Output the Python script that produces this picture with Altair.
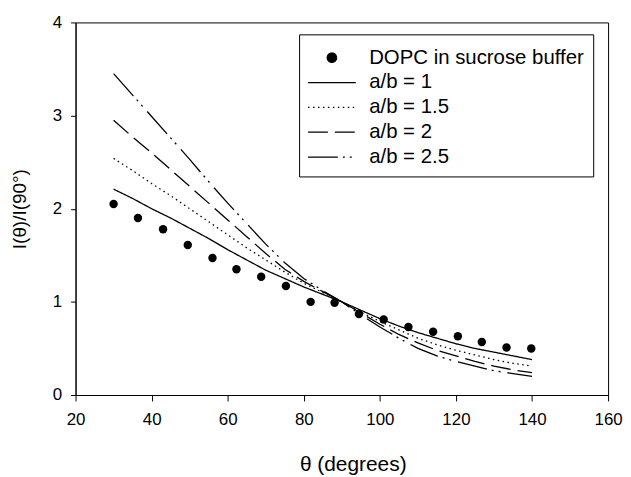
import math
import altair as alt
import pandas as pd

# ---- data ----
theta_pts = [30, 36.4, 43, 49.5, 56, 62.3, 68.8, 75.3, 81.8, 88.1, 94.5, 101,
             107.5, 114, 120.5, 126.8, 133.3, 139.8]
ratio_pts = [2.05, 1.90, 1.78, 1.61, 1.47, 1.35, 1.27, 1.17, 1.00, 0.99, 0.87,
             0.81, 0.73, 0.68, 0.63, 0.57, 0.51, 0.50]

theta_fit = [30, 35, 40, 45, 50, 55, 60, 65, 70, 75, 80, 85, 90, 95, 100, 105,
             110, 115, 120, 125, 130, 135, 140]
ab_1 = [2.21, 2.11, 2.00, 1.90, 1.79, 1.68, 1.56, 1.45, 1.34, 1.25, 1.16, 1.08,
        1.00, 0.91, 0.82, 0.74, 0.67, 0.61, 0.55, 0.50, 0.46, 0.42, 0.38]
ab_1_5 = [2.54, 2.41, 2.27, 2.14, 2.00, 1.86, 1.72, 1.58, 1.45, 1.32, 1.20, 1.10,
          1.00, 0.89, 0.79, 0.70, 0.61, 0.54, 0.48, 0.43, 0.38, 0.34, 0.31]
ab_2 = [2.95, 2.77, 2.60, 2.42, 2.24, 2.06, 1.88, 1.70, 1.52, 1.35, 1.22, 1.11,
        1.00, 0.88, 0.76, 0.65, 0.56, 0.48, 0.42, 0.36, 0.31, 0.27, 0.24]
ab_2_5 = [3.45, 3.22, 2.99, 2.76, 2.53, 2.29, 2.06, 1.84, 1.62, 1.42, 1.25, 1.12,
          1.00, 0.86, 0.73, 0.61, 0.50, 0.42, 0.36, 0.31, 0.26, 0.23, 0.20]

series_names = ["a/b = 1", "a/b = 1.5", "a/b = 2", "a/b = 2.5"]
points_name = "DOPC in sucrose buffer"
x_ticks = [20, 40, 60, 80, 100, 120, 140, 160]
y_ticks = [0, 1, 2, 3, 4]

# ---- tables ----
rows = []
for name, vals in zip(series_names, [ab_1, ab_1_5, ab_2, ab_2_5]):
    for t, v in zip(theta_fit, vals):
        rows.append({"theta": t, "ratio": v, "series": name})
lines_df = pd.DataFrame(rows)
pts_df = pd.DataFrame({"theta": theta_pts, "ratio": ratio_pts})

legend_domain = [points_name] + series_names
dash_range = [[1, 0], [1, 0], [1.5, 3.5], [20, 7], [30, 5, 2, 5, 2, 7]]

FONT = "Liberation Sans, Arial, sans-serif"
# legend glyphs (unit symbol paths, scaled by sqrt(symbolSize)/2 = 13.5 px)
_r = 0.35
dot_path = "M " + " L ".join(
    f"{_r * math.cos(2 * math.pi * k / 20):.4f} {_r * math.sin(2 * math.pi * k / 20):.4f}"
    for k in range(20)
) + " Z"
line_path = "M -1.778 0 L 1.778 0"
is_pts = "datum.value === '" + points_name + "'"

legend = alt.Legend(
    title=None,
    orient="none",
    legendX=225,
    legendY=12,
    symbolSize=729,
    symbolStrokeWidth=1.3,
    symbolStrokeColor="black",
    symbolType={"expr": is_pts + " ? '" + dot_path + "' : '" + line_path + "'"},
    symbolFillColor={"expr": is_pts + " ? 'black' : 'transparent'"},
    symbolOffset=9.5,
    labelOffset=23,
    labelFontSize=20.5,
    labelFont=FONT,
    labelColor="black",
    labelLimit=400,
    strokeColor="black",
    fillColor="white",
    padding=9,
    rowPadding=-3.75,
    columnPadding=0,
)

x_axis = alt.Axis(
    values=x_ticks, title="θ (degrees)", labelFlush=False,
    tickSize=6, labelPadding=11, titleX=279, titleY=59, titleFontSize=21,
)
y_axis = alt.Axis(
    values=y_ticks, title="I(θ)/I(90°)", format="d",
    tickSize=5, labelPadding=9, titleX=-46, titleY=187.5, titleBaseline="bottom",
    titleFontSize=19,
)

x_enc = alt.X("theta:Q", scale=alt.Scale(domain=[20, 160], nice=False), axis=x_axis)
y_enc = alt.Y("ratio:Q", scale=alt.Scale(domain=[0, 4], nice=False), axis=y_axis)

lines = alt.Chart(lines_df).mark_line(color="black", strokeWidth=1.3).encode(
    x=x_enc,
    y=y_enc,
    strokeDash=alt.StrokeDash(
        "series:N",
        scale=alt.Scale(domain=legend_domain, range=dash_range),
        legend=legend,
    ),
)

points = alt.Chart(pts_df).mark_circle(color="black", size=72, opacity=1).encode(
    x="theta:Q", y="ratio:Q"
)

chart = (
    alt.layer(lines, points)
    .properties(
        width=536,
        height=375,
        autosize=alt.AutoSizeParams(type="none"),
        padding={"left": 68, "top": 13, "right": 15, "bottom": 80},
        background="white",
    )
    .configure_view(stroke="black", strokeWidth=1)
    .configure_axis(
        grid=False,
        domainColor="black",
        tickColor="black",
        labelColor="black",
        titleColor="black",
        labelFont=FONT,
        titleFont=FONT,
        labelFontSize=17,
        titleFontWeight="normal",
    )
)

chart.save("out.html", embed_options={"renderer": "svg", "actions": False})
